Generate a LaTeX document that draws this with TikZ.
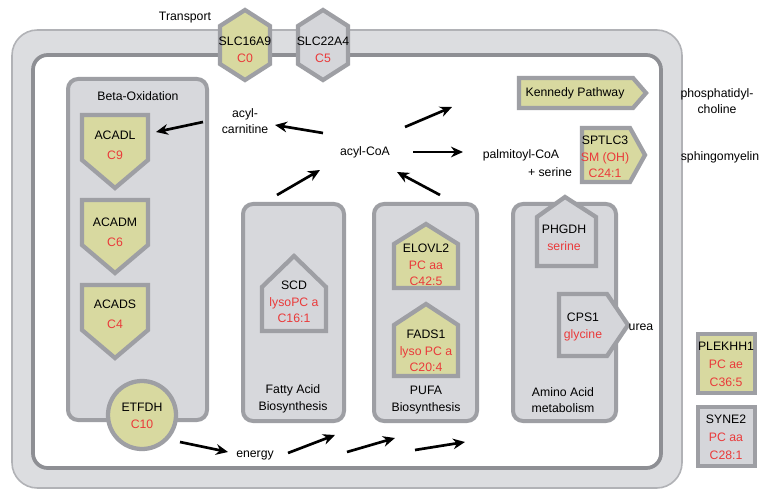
\documentclass[tikz,border=0pt]{standalone}
\usepackage{fontspec}
\setmainfont{Liberation Sans}
\usetikzlibrary{arrows.meta}

\definecolor{olivefill}{RGB}{216,217,160}
\definecolor{shapegray}{RGB}{213,214,218}
\definecolor{bevel}{RGB}{158,159,164}
\definecolor{boxgray}{RGB}{215,216,220}
\definecolor{membrane}{RGB}{220,221,224}
\definecolor{metred}{RGB}{234,58,58}

\tikzset{
  olive/.style={fill=olivefill, draw=bevel, line width=3.2pt, line join=miter},
  grayshape/.style={fill=shapegray, draw=bevel, line width=3.2pt, line join=miter},
  compartment/.style={fill=boxgray, draw=bevel, line width=3pt, rounded corners=7.5pt},
  label/.style={font=\fontsize{9.2}{12.5}\selectfont, align=center, inner sep=0pt},
  enz/.style={label},
  flow/.style={line width=2pt, -{Stealth[length=9pt,width=8pt]}}
}

\begin{document}
\begin{tikzpicture}[x=0.75pt,y=-0.75pt]
\useasboundingbox (0,0) rectangle (766,491);

% cell membrane
\draw[draw=bevel!80, line width=1.2pt, fill=membrane, rounded corners=19pt] (12,30) rectangle (682,488);
\draw[draw=bevel!90!black, line width=2.8pt, fill=white, rounded corners=11pt] (33,55) rectangle (661,468);

% transport
\node[label] (transport) at (185,18) {Transport};
\draw[olive] (245,10) -- (270,26) -- (270,64) -- (245,80) -- (220,64) -- (220,26) -- cycle;
\node[enz] (slc16a9) at (245,50) {SLC16A9\\\color{metred}C0};
\draw[grayshape] (323,10) -- (348,26) -- (348,64) -- (323,80) -- (298,64) -- (298,26) -- cycle;
\node[enz] (slc22a4) at (323,50) {SLC22A4\\\color{metred}C5};

% compartments
\draw[compartment] (68,79) rectangle (207,420);
\node[label] (betaox) at (138,96) {Beta-Oxidation};
\draw[compartment] (243,204) rectangle (344,421);
\node[label] (fatty) at (293,399) {Fatty Acid\\Biosynthesis};
\draw[compartment] (374,204) rectangle (477,421);
\node[label] (pufa) at (426,400) {PUFA\\Biosynthesis};
\draw[compartment] (513,204) rectangle (616,421);
\node[label] (amino) at (563,400) {Amino Acid\\metabolism};

% beta-oxidation enzymes
\draw[olive] (82,115) -- (148,115) -- (148,160) -- (115,188) -- (82,160) -- cycle;
\node[enz] (acadl) at (115,145) {ACADL\\[2.5pt]\color{metred}C9};
\draw[olive] (82,200) -- (148,200) -- (148,245) -- (115,273) -- (82,245) -- cycle;
\node[enz] (acadm) at (115,232) {ACADM\\[2.5pt]\color{metred}C6};
\draw[olive] (82,285) -- (148,285) -- (148,330) -- (115,358) -- (82,330) -- cycle;
\node[enz] (acads) at (115,314) {ACADS\\[2.5pt]\color{metred}C4};
\draw[olive] (142,415) circle (34);
\node[enz] (etfdh) at (142,416) {ETFDH\\\color{metred}C10};

% fatty acid and PUFA enzymes
\draw[grayshape] (262,287) -- (294,256) -- (326,287) -- (326,331) -- (262,331) -- cycle;
\node[enz] (scd) at (294,302) {SCD\\\color{metred}lysoPC a\\\color{metred}C16:1};
\draw[olive] (394,244) -- (426,224) -- (458,244) -- (458,288) -- (394,288) -- cycle;
\node[enz] (elovl2) at (426,265) {ELOVL2\\\color{metred}PC aa\\\color{metred}C42:5};
\draw[olive] (394,325) -- (426,304) -- (458,325) -- (458,376) -- (394,376) -- cycle;
\node[enz] (fads1) at (426,351) {FADS1\\\color{metred}lyso PC a\\\color{metred}C20:4};

% amino acid enzymes
\draw[grayshape] (537,217) -- (565,197) -- (596,217) -- (596,266) -- (537,266) -- cycle;
\node[enz] (phgdh) at (564,238) {PHGDH\\\color{metred}serine};
\draw[grayshape] (559,294) -- (607,294) -- (628,325) -- (607,356) -- (559,356) -- cycle;
\node[enz] (cps1) at (583,327) {CPS1\\\color{metred}glycine};
\node[label] (urea) at (641,327) {urea};

% lipid pathways
\draw[olive] (519,78) -- (633,78) -- (646,93) -- (633,108) -- (519,108) -- cycle;
\node[label] (kennedy) at (575,93) {Kennedy Pathway};
\draw[olive] (582,128) -- (630,128) -- (645,155) -- (630,182) -- (582,182) -- cycle;
\node[enz] (sptlc3) at (605,157) {SPTLC3\\\color{metred}SM (OH)\\\color{metred}C24:1};
\node[label] (palm) at (521,155) {palmitoyl-CoA};
\node[label] (serine) at (550,172) {+ serine};
\node[label] (pchol) at (717,101) {phosphatidyl-\\choline};
\node[label] (sphingo) at (720,157) {sphingomyelin};

% metabolites
\node[label] (carnitine) at (245,121) {acyl-\\carnitine};
\node[label] (acylcoa) at (365,152) {acyl-CoA};
\node[label] (energy) at (255,455) {energy};

% other genes
\draw[olive, line width=2.4pt] (698,334) rectangle (755,393);
\node[enz, font=\fontsize{9.2}{13.5}\selectfont] (plekhh1) at (726,364) {PLEKHH1\\\color{metred}PC ae\\\color{metred}C36:5};
\draw[grayshape, line width=2.4pt] (698,407) rectangle (755,466);
\node[enz, font=\fontsize{9.2}{13.5}\selectfont] (syne2) at (726,437) {SYNE2\\\color{metred}PC aa\\\color{metred}C28:1};

% arrows
\coordinate (carn-s) at (203,122);  \coordinate (carn-e) at (156,132);
\coordinate (coa-s) at (323,133);   \coordinate (coa-e) at (275,125);
\coordinate (up-s) at (405,127);    \coordinate (up-e) at (452,107);
\coordinate (right-s) at (413,152); \coordinate (right-e) at (463,152);
\coordinate (pufa-s) at (440,195);  \coordinate (pufa-e) at (397,172);
\coordinate (fa-s) at (277,195);    \coordinate (fa-e) at (320,170);
\coordinate (etf-s) at (180,442);   \coordinate (etf-e) at (228,452);
\coordinate (en1-s) at (288,453);   \coordinate (en1-e) at (335,435);
\coordinate (en2-s) at (347,452);   \coordinate (en2-e) at (395,438);
\coordinate (en3-s) at (415,450);   \coordinate (en3-e) at (465,442);
\draw[flow] (carn-s) -- (carn-e);
\draw[flow] (coa-s) -- (coa-e);
\draw[flow] (up-s) -- (up-e);
\draw[flow] (right-s) -- (right-e);
\draw[flow] (pufa-s) -- (pufa-e);
\draw[flow] (fa-s) -- (fa-e);
\draw[flow] (etf-s) -- (etf-e);
\draw[flow] (en1-s) -- (en1-e);
\draw[flow] (en2-s) -- (en2-e);
\draw[flow] (en3-s) -- (en3-e);
\end{tikzpicture}
\end{document}
